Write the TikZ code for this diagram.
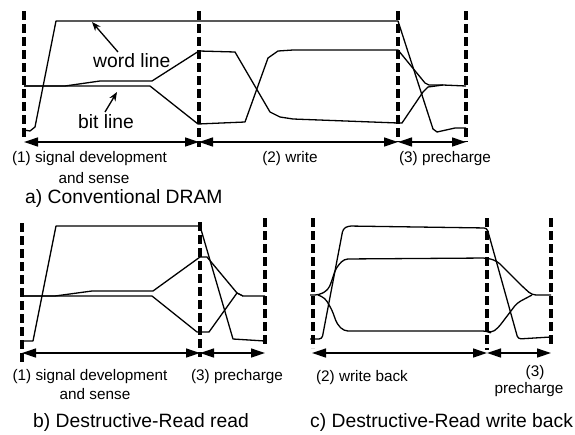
\documentclass[tikz,border=0pt]{standalone}
\usepackage{fontspec}
\setmainfont{Liberation Sans}
\usetikzlibrary{arrows.meta}
\newcommand\lblsmall{\fontsize{15.3}{18}\selectfont}
\newcommand\lblbig{\fontsize{19.3}{22}\selectfont}
\begin{document}
\begin{tikzpicture}[x=1pt,y=-1pt,
  phase/.style={line width=3.2pt,dash pattern=on 9pt off 4pt},
  sig/.style={line width=1.3pt,line join=round},
  span/.style={line width=1.3pt,{Triangle[length=14pt,width=9pt]}-{Triangle[length=14pt,width=9pt]}},
  note/.style={line width=1.3pt,-{Stealth[length=9pt,width=7pt]}},
  small/.style={font=\lblsmall,inner sep=0pt,anchor=base},
  big/.style={font=\lblbig,inner sep=0pt,anchor=base west}]
\useasboundingbox (0,0) rectangle (575,434);

% ---------------- panel a ----------------
\coordinate (a1t) at (24,11);  \coordinate (a1b) at (24,140);
\coordinate (a2t) at (199,11); \coordinate (a2b) at (199,147);
\coordinate (a3t) at (398,11); \coordinate (a3b) at (398,142);
\coordinate (a4t) at (466,11); \coordinate (a4b) at (466,142);
\draw[phase] (a1t) -- (a1b);
\draw[phase] (a2t) -- (a2b);
\draw[phase] (a3t) -- (a3b);
\draw[phase] (a4t) -- (a4b);
% word line
\draw[sig] (24,130) -- (30,131) -- (35,127) -- (56,21) -- (398,21) -- (433,129) -- (437,132) -- (455,128) -- (466,128);
% bit lines
\draw[sig] (24,86) -- (65,86) -- (100,81) -- (152,81) -- (199,51) -- (235,52) -- (270,112) -- (280,117) -- (293,119) -- (398,123) -- (402,123) -- (423,92) -- (428,87) -- (443,85) -- (466,86);
\draw[sig] (24,86) -- (150,86) -- (198,124) -- (245,122) -- (268,58) -- (278,51) -- (293,50) -- (398,50) -- (425,83) -- (429,85) -- (443,85);
% spans
\coordinate (aa1) at (24,142); \coordinate (aa2) at (199,142);
\coordinate (aa3) at (398,142); \coordinate (aa4) at (466,142);
\draw[span] (aa1) -- (aa2);
\draw[span] (aa2) -- (aa3);
\draw[span] (aa3) -- (aa4);
% annotations
\node[big] (wl) at (93,67) {word line};
\node[big] (bl) at (78,128) {bit line};
\coordinate (wlt) at (118,52); \coordinate (wlh) at (92,22);
\coordinate (blt) at (105,112); \coordinate (blh) at (117,92);
\draw[note] (wlt) -- (wlh);
\draw[note] (blt) -- (blh);
% labels
\node[small] (a-l1) at (89.5,162) {(1) signal development};
\node[small] (a-l1b) at (94,183) {and sense};
\node[small] (a-l2) at (290,162) {(2) write};
\node[small] (a-l3) at (445,162) {(3) precharge};
\node[big] (a-cap) at (25,203) {a) Conventional DRAM};

% ---------------- panel b ----------------
\coordinate (b1t) at (22,223);  \coordinate (b1b) at (22,362);
\coordinate (b2t) at (200,222); \coordinate (b2b) at (200,357);
\coordinate (b3t) at (265,218); \coordinate (b3b) at (265,346);
\draw[phase] (b1t) -- (b1b);
\draw[phase] (b2t) -- (b2b);
\draw[phase] (b3t) -- (b3b);
\draw[sig] (22,341) -- (33,341) -- (56,226) -- (200,226) -- (233,339) -- (265,341);
\draw[sig] (22,296) -- (55,296) -- (92,291) -- (153,291) -- (200,257) -- (207,257) -- (237,293) -- (243,296) -- (265,296);
\draw[sig] (22,296) -- (152,296) -- (197,332) -- (209,332) -- (237,293) -- (243,296);
\coordinate (ba1) at (22,353); \coordinate (ba2) at (200,353); \coordinate (ba3) at (265,353);
\draw[span] (ba1) -- (ba2);
\draw[span] (ba2) -- (ba3);
\node[small] (b-l1) at (90,380) {(1) signal development};
\node[small] (b-l1b) at (95,399) {and sense};
\node[small] (b-l3) at (237,380) {(3) precharge};
\node[big] (b-cap) at (33,427) {b) Destructive-Read read};

% ---------------- panel c ----------------
\coordinate (c1t) at (313,218); \coordinate (c1b) at (313,348);
\coordinate (c2t) at (487,218); \coordinate (c2b) at (487,350);
\coordinate (c3t) at (551,218); \coordinate (c3b) at (551,347);
\draw[phase] (c1t) -- (c1b);
\draw[phase] (c2t) -- (c2b);
\draw[phase] (c3t) -- (c3b);
\draw[sig,rounded corners=3pt] (310,339) -- (322,339) -- (343,229) -- (348,226) -- (487,228) -- (518,339) -- (551,337);
\draw[sig,rounded corners=4pt] (310,295) -- (319,295) -- (328,290) -- (331,283) -- (336,268) -- (344,259) -- (487,258) -- (497,261) -- (523,287) -- (532,295) -- (551,295);
\draw[sig,rounded corners=4pt] (318,295) -- (325,298) -- (332,310) -- (337,324) -- (344,331) -- (487,331) -- (491,333) -- (498,328) -- (517,303) -- (532,295);
\coordinate (ca1) at (312,353); \coordinate (ca2) at (487,353); \coordinate (ca3) at (551,353);
\draw[span] (ca1) -- (ca2);
\draw[span] (ca2) -- (ca3);
\node[small] (c-l2) at (362,381) {(2) write back};
\node[small] (c-l3a) at (535,376) {(3)};
\node[small] (c-l3b) at (529,393) {precharge};
\node[big] (c-cap) at (310,427) {c) Destructive-Read write back};
\end{tikzpicture}
\end{document}
